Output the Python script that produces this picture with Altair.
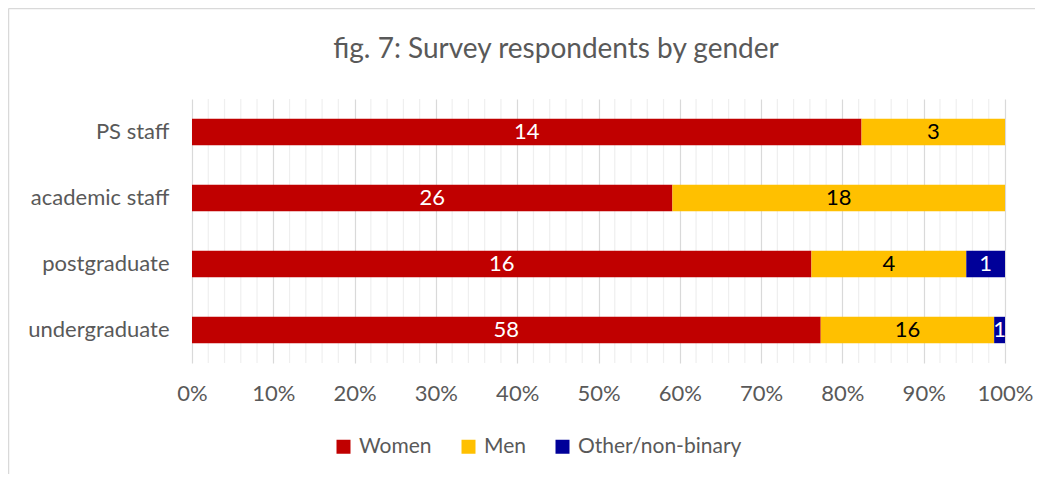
import altair as alt
import pandas as pd

title_text = "fig. 7: Survey respondents by gender"
groups = ["PS staff", "academic staff", "postgraduate", "undergraduate"]
genders = ["Women", "Men", "Other/non-binary"]
women = [14, 26, 16, 58]
men = [3, 18, 4, 16]
other = [0, 0, 1, 1]
colors = ["#C00000", "#FFC000", "#000099"]
label_colors = ["#FFFFFF", "#000000", "#FFFFFF"]
minor_ticks = [i / 100 for i in range(2, 100, 2) if i % 10 != 0]
major_ticks = [i / 10 for i in range(0, 11)]

rows = []
for gi, g in enumerate(groups):
    for si, (s, vals) in enumerate(zip(genders, [women, men, other])):
        rows.append({"group": g, "gender": s, "order": si, "count": vals[gi],
                     "lc": label_colors[si]})
df = pd.DataFrame(rows)

FONT = "Lato"
GRAY = "#595959"
W, H = 813, 264

base = alt.Chart(df).transform_filter("datum.count > 0").transform_stack(
    stack="count", groupby=["group"], as_=["x0", "x1"], offset="normalize",
    sort=[alt.SortField("order")]
).transform_calculate(mid="(datum.x0 + datum.x1) / 2")

yenc = alt.Y("group:N", sort=groups, title=None,
             scale=alt.Scale(paddingInner=0.6, paddingOuter=0.3),
             axis=alt.Axis(labelFont=FONT, labelFontSize=22, labelColor=GRAY,
                           ticks=False, domain=False, labelPadding=23, grid=False))

bars = base.mark_bar().encode(
    x=alt.X("x0:Q", title=None, scale=alt.Scale(domain=[0, 1], nice=False),
            axis=alt.Axis(values=major_ticks, format=".0%", labelFont=FONT,
                          labelFontSize=22, labelColor=GRAY, ticks=False,
                          domain=False, labelPadding=20, gridColor="#D9D9D9",
                          gridWidth=1.2, labelFlush=False)),
    x2="x1:Q",
    y=yenc,
    color=alt.Color("gender:N", sort=genders,
                    scale=alt.Scale(domain=genders, range=colors),
                    legend=alt.Legend(title=None, orient="none", direction="horizontal",
                                      legendX=141, legendY=337, symbolType="square",
                                      symbolSize=196, symbolStrokeWidth=0,
                                      labelFont=FONT, labelFontSize=21,
                                      labelColor=GRAY, columnPadding=26,
                                      labelOffset=5, labelLimit=400)),
)

labels = base.mark_text(font=FONT, fontSize=22, baseline="middle", align="center").encode(
    x="mid:Q",
    y=alt.Y("group:N", sort=groups),
    text="count:Q",
    color=alt.Color("lc:N", scale=None, legend=None),
)

minor = alt.Chart(pd.DataFrame({"v": minor_ticks})).mark_rule(
    color="#EFEFEF", strokeWidth=1.2
).encode(x="v:Q", y=alt.value(0), y2=alt.value(H))

one = pd.DataFrame({"t": [title_text]})
title = alt.Chart(one).mark_text(
    font=FONT, fontSize=28, color=GRAY, align="center", baseline="alphabetic"
).encode(x=alt.value(364), y=alt.value(-41), text="t:N")

frame_left = alt.Chart(one).mark_rule(
    color="#D9D9D9", strokeWidth=1.5
).encode(x=alt.value(-183.5), y=alt.value(-90.5), y2=alt.value(400))
frame_top = alt.Chart(one).mark_rule(
    color="#D9D9D9", strokeWidth=1.5
).encode(x=alt.value(-183.5), x2=alt.value(900), y=alt.value(-90.5))

chart = alt.layer(minor, bars, labels, title, frame_left, frame_top).properties(
    width=W, height=H,
    autosize=alt.AutoSizeParams(type="none"),
    padding={"left": 184, "top": 91, "right": 30, "bottom": 111},
).configure_view(stroke=None)

chart.save("out.html", embed_options={"renderer": "svg", "actions": False})
